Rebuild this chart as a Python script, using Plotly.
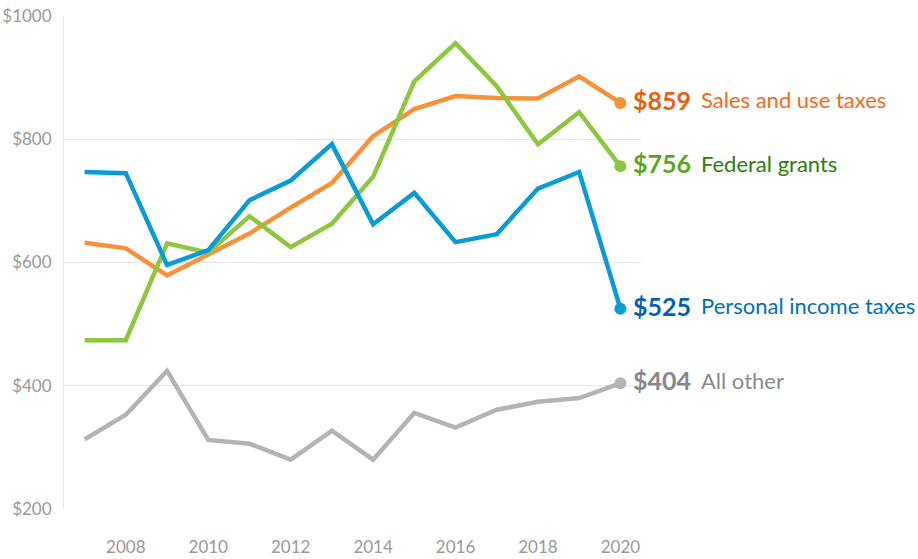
import plotly.graph_objects as go

years = list(range(2007, 2021))
sales = [632, 623, 579, 612, 647, 689, 729, 805, 849, 870, 867, 866, 902, 859]
federal = [474, 474, 631, 616, 675, 625, 663, 739, 894, 956, 886, 792, 844, 756]
income = [747, 745, 596, 620, 701, 733, 792, 662, 713, 633, 646, 720, 747, 525]
other = [313, 353, 424, 312, 306, 280, 327, 280, 356, 332, 361, 374, 380, 404]
y_ticks = [200, 400, 600, 800, 1000]
x_ticks = [2008, 2010, 2012, 2014, 2016, 2018, 2020]

series = [
    ("Sales and use taxes", sales, "#F7923A", "#E8600C", "#F26B1D"),
    ("Federal grants", federal, "#8DC63F", "#5AA51E", "#2E7D0A"),
    ("Personal income taxes", income, "#0A9BD6", "#0062B0", "#0070BB"),
    ("All other", other, "#B4B4B8", "#87878C", "#8A8A8F"),
]

fig = go.Figure()
annotations = []
for name, vals, lc, vc, tc in series:
    fig.add_trace(go.Scatter(
        x=years, y=vals, mode="lines", name=name,
        line=dict(color=lc, width=4.5), hoverinfo="x+y"))
    fig.add_trace(go.Scatter(
        x=[years[-1]], y=[vals[-1]], mode="markers",
        marker=dict(color=lc, size=12), showlegend=False, hoverinfo="skip"))
    annotations.append(dict(
        x=years[-1], y=vals[-1], xref="x", yref="y",
        xanchor="left", yanchor="middle", xshift=11, yshift=3,
        showarrow=False, text=f"<b>${vals[-1]}</b>",
        font=dict(family="Lato", size=25, color=vc)))
    annotations.append(dict(
        x=years[-1], y=vals[-1], xref="x", yref="y",
        xanchor="left", yanchor="middle", xshift=79, yshift=3,
        showarrow=False, text=name,
        font=dict(family="Lato", size=22, color=tc)))

fig.update_layout(
    width=918, height=559,
    margin=dict(l=64, r=277, t=16, b=50),
    paper_bgcolor="white", plot_bgcolor="white",
    showlegend=False,
    annotations=annotations,
    font=dict(family="Lato", color="#9A9A9A"),
)
fig.update_xaxes(
    range=[2006.5, 2020.5], tickmode="array", tickvals=x_ticks,
    ticktext=[str(v) for v in x_ticks], automargin=False,
    showgrid=False, zeroline=False, showline=False, ticks="",
    tickfont=dict(family="Lato", size=17, color="#9A9A9A"), ticklabelstandoff=26)
fig.update_yaxes(
    range=[200, 1000], tickmode="array", tickvals=y_ticks,
    ticktext=[f"${v}" for v in y_ticks], automargin=False,
    showgrid=True, gridcolor="#E6E6E6", gridwidth=1, zeroline=False,
    showline=True, linecolor="#E6E6E6", linewidth=1, ticks="",
    tickfont=dict(family="Lato", size=17, color="#9A9A9A"), ticklabelstandoff=8)

fig.write_html("out.html")
